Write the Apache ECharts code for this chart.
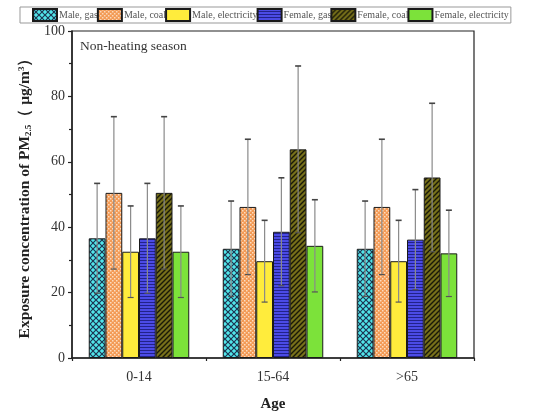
<!DOCTYPE html>
<html><head><meta charset="utf-8">
<script src="https://cdn.jsdelivr.net/npm/echarts@6/dist/echarts.min.js"></script>
<style>html,body{margin:0;padding:0;background:#fff}#c{width:554px;height:413px}</style>
</head><body><div id="c"></div>
<script>
const categories = ['0-14', '15-64', '>65'];
const seriesNames = ['Male, gas', 'Male, coal', 'Male, electricity', 'Female, gas', 'Female, coal', 'Female, electricity'];
const maleGas = [36.6, 33.4, 33.4];
const maleGasErr = [16.8, 14.6, 14.6];
const maleCoal = [50.5, 46.2, 46.2];
const maleCoalErr = [23.3, 20.7, 20.7];
const maleElec = [32.5, 29.6, 29.6];
const maleElecErr = [14.0, 12.5, 12.5];
const femaleGas = [36.6, 38.6, 36.2];
const femaleGasErr = [16.8, 16.5, 15.3];
const femaleCoal = [50.5, 63.8, 55.2];
const femaleCoalErr = [23.3, 25.5, 22.7];
const femaleElec = [32.5, 34.3, 32.0];
const femaleElecErr = [14.0, 14.1, 13.2];
const yTicks = [0, 20, 40, 60, 80, 100];

const values = [maleGas, maleCoal, maleElec, femaleGas, femaleCoal, femaleElec];
const errors = [maleGasErr, maleCoalErr, maleElecErr, femaleGasErr, femaleCoalErr, femaleElecErr];

function tile(w, h, draw) {
  const c = document.createElement('canvas');
  c.width = w; c.height = h;
  draw(c.getContext('2d'), w, h);
  return {image: c, repeat: 'repeat'};
}
const fills = [
  tile(6, 6, (g, w, h) => {
    g.fillStyle = '#52e6ea'; g.fillRect(0, 0, w, h);
    g.strokeStyle = '#1d3450'; g.lineWidth = 1.2;
    g.beginPath(); g.moveTo(0, 0); g.lineTo(6, 6); g.moveTo(6, 0); g.lineTo(0, 6); g.stroke();
  }),
  tile(4, 4, (g, w, h) => {
    g.fillStyle = '#f39a55'; g.fillRect(0, 0, w, h);
    g.fillStyle = '#fcdcc0'; g.fillRect(0, 0, 1.5, 1.5); g.fillRect(2, 2, 1.5, 1.5);
  }),
  '#ffec3c',
  tile(4, 3, (g, w, h) => {
    g.fillStyle = '#4b4be6'; g.fillRect(0, 0, w, h);
    g.fillStyle = '#22228a'; g.fillRect(0, 2, w, 1);
  }),
  tile(5, 5, (g, w, h) => {
    g.fillStyle = '#77701a'; g.fillRect(0, 0, w, h);
    g.strokeStyle = '#1a1a08'; g.lineWidth = 1.4;
    g.beginPath(); g.moveTo(-1, 6); g.lineTo(6, -1); g.moveTo(-1, 1); g.lineTo(1, -1); g.moveTo(4, 6); g.lineTo(6, 4); g.stroke();
  }),
  '#7ce23a'
];

const gap = 0.25;
const series = [];
seriesNames.forEach((name, si) => {
  series.push({
    name: name, type: 'bar', data: values[si],
    barGap: '0%', barCategoryGap: (gap * 100) + '%',
    itemStyle: {color: fills[si], borderColor: '#1a1a1a', borderWidth: 1},
    z: 2
  });
});
seriesNames.forEach((name, si) => {
  series.push({
    type: 'custom', name: name + ' err', z: 5, silent: true,
    data: values[si].map((v, i) => [i, v, errors[si][i]]),
    renderItem: function (params, api) {
      const ci = api.value(0), v = api.value(1), e = api.value(2);
      const band = api.size([1, 0])[0];
      const bw = band * (1 - gap) / 6;
      const c = api.coord([ci, v]);
      const x = c[0] + (si - 2.5) * bw;
      const top = api.coord([ci, v + e])[1];
      const bot = api.coord([ci, v - e])[1];
      const cap = 3;
      return {type: 'group', children: [
        {type: 'line', shape: {x1: x, y1: top, x2: x, y2: bot}, style: {stroke: '#8a8a8a', lineWidth: 1.2}},
        {type: 'line', shape: {x1: x - cap, y1: top, x2: x + cap, y2: top}, style: {stroke: '#444', lineWidth: 1.6}},
        {type: 'line', shape: {x1: x - cap, y1: bot, x2: x + cap, y2: bot}, style: {stroke: '#555', lineWidth: 1.2}}
      ]};
    }
  });
});

const serif = 'Liberation Serif';
const chart = echarts.init(document.getElementById('c'), null, {renderer: 'canvas'});
chart.setOption({
  animation: false,
  backgroundColor: '#fff',
  title: {text: 'Non-heating season', left: 80, top: 39, padding: 0,
    textStyle: {fontFamily: serif, fontSize: 13.5, fontWeight: 'normal', color: '#333'}},
  legend: {
    data: seriesNames.map(n => ({name: n, icon: 'rect'})), left: 20, top: 7, itemWidth: 24, itemHeight: 12, itemGap: -1,
    padding: [1, 2, 1, 12], borderColor: '#999', borderWidth: 1,
    textStyle: {fontFamily: serif, fontSize: 10, color: '#555', padding: [0, 0, 0, -3]}
  },
  grid: {left: 72, right: 80, top: 31, bottom: 55, show: true, borderColor: '#222', borderWidth: 1.2,
    containLabel: false, outerBoundsMode: 'none'},
  xAxis: [{
    type: 'category', data: categories,
    axisLine: {lineStyle: {color: '#222', width: 1.5}},
    axisTick: {alignWithLabel: true, length: 5, lineStyle: {color: '#222', width: 1.2}},
    axisLabel: {fontFamily: serif, fontSize: 14, color: '#333', margin: 12},
    name: 'Age', nameLocation: 'middle', nameGap: 39,
    nameTextStyle: {fontFamily: serif, fontSize: 15, fontWeight: 'bold', color: '#222'}
  }, {
    type: 'category', data: categories, position: 'bottom',
    axisLine: {show: false}, axisLabel: {show: false},
    axisTick: {show: true, length: 3, lineStyle: {color: '#222', width: 1.2}}
  }],
  yAxis: {
    type: 'value', min: yTicks[0], max: yTicks[yTicks.length - 1], interval: yTicks[1] - yTicks[0],
    splitLine: {show: false},
    axisLine: {show: true, lineStyle: {color: '#222', width: 1.5}},
    axisTick: {show: true, length: 4, lineStyle: {color: '#222', width: 1.2}},
    minorTick: {show: true, splitNumber: 2, length: 3, lineStyle: {color: '#222', width: 1.2}},
    axisLabel: {fontFamily: serif, fontSize: 14, color: '#333', margin: 7},
    name: 'Exposure concentration of PM{sub|2.5}（ μg/m{sup|3}）',
    nameLocation: 'middle', nameGap: 36,
    nameTextStyle: {fontFamily: serif, fontSize: 15.5, fontWeight: 'bold', color: '#222',
      rich: {
        sub: {fontFamily: serif, fontSize: 9, fontWeight: 'bold', verticalAlign: 'bottom', padding: [7, 0, 0, 0], color: '#222'},
        sup: {fontFamily: serif, fontSize: 9, fontWeight: 'bold', verticalAlign: 'top', padding: [0, 0, 7, 0], color: '#222'}
      }}
  },
  series: series
});
</script></body></html>
